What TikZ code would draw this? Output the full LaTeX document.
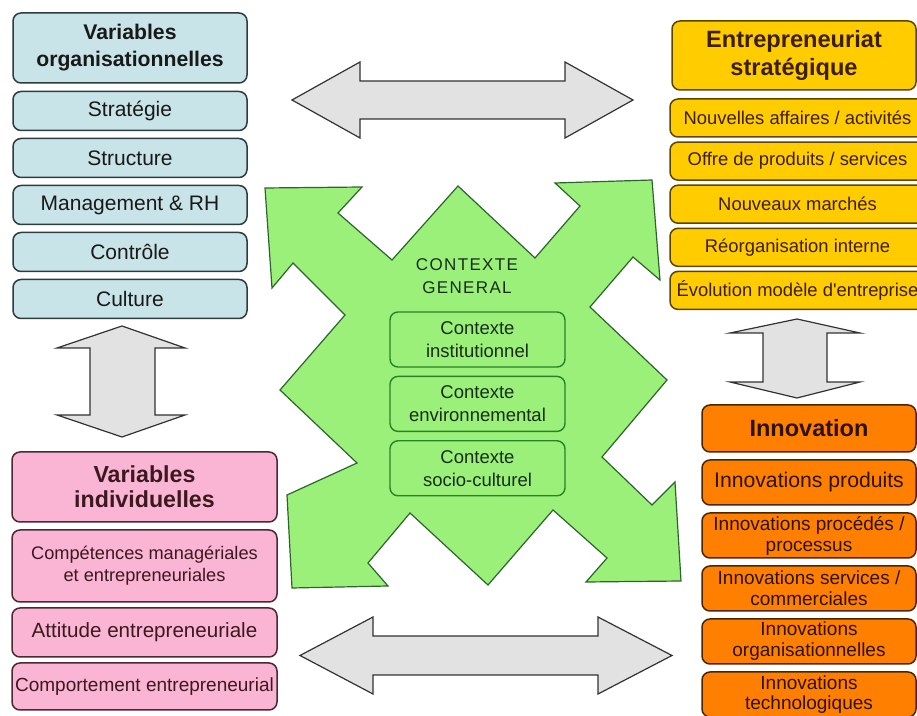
\documentclass[tikz,border=0pt]{standalone}
\usepackage{fontspec}
\setmainfont{Liberation Sans}
\newfontfamily\spacedfont[LetterSpace=8]{Liberation Sans}
\usetikzlibrary{positioning}

\definecolor{orgfill}{RGB}{200,228,232}
\definecolor{orgline}{RGB}{45,60,62}
\definecolor{orgtext}{RGB}{25,25,25}
\definecolor{stratfill}{RGB}{255,204,0}
\definecolor{stratline}{RGB}{90,70,0}
\definecolor{strattext}{RGB}{60,30,0}
\definecolor{innofill}{RGB}{255,128,0}
\definecolor{innoline}{RGB}{75,38,0}
\definecolor{innotext}{RGB}{45,18,0}
\definecolor{indivfill}{RGB}{250,180,212}
\definecolor{indivline}{RGB}{75,40,50}
\definecolor{indivtext}{RGB}{60,25,30}
\definecolor{ctxfill}{RGB}{155,240,122}
\definecolor{ctxline}{RGB}{40,130,40}
\definecolor{ctxshapeline}{RGB}{45,100,45}
\definecolor{ctxtext}{RGB}{25,45,25}
\definecolor{arrowfill}{RGB}{226,226,226}
\definecolor{arrowline}{RGB}{50,50,50}

\begin{document}
\begin{tikzpicture}[x=0.5pt,y=-0.5pt,
  box/.style={draw, rounded corners=4pt, line width=0.75pt, align=center, inner sep=0pt},
  orgbox/.style={box, fill=orgfill, draw=orgline, text=orgtext, minimum width=117pt,
    minimum height=19.5pt, font=\fontsize{10.5}{12.5}\selectfont},
  orghead/.style={orgbox, minimum height=35pt, font=\bfseries\fontsize{10.6}{13.5}\selectfont},
  stratbox/.style={box, fill=stratfill, draw=stratline, text=strattext, minimum width=127.5pt,
    minimum height=19pt, font=\fontsize{9.2}{11}\selectfont},
  strathead/.style={stratbox, minimum width=122pt, minimum height=34.5pt,
    font=\bfseries\fontsize{11.8}{14}\selectfont},
  innobox/.style={box, fill=innofill, draw=innoline, text=innotext, minimum width=107pt,
    minimum height=22.5pt, font=\fontsize{9.5}{10.5}\selectfont},
  innohead/.style={innobox, minimum height=23.5pt, font=\bfseries\fontsize{11.75}{14}\selectfont},
  indivbox/.style={box, fill=indivfill, draw=indivline, text=indivtext, minimum width=132.5pt,
    font=\fontsize{9.3}{11}\selectfont},
  indivhead/.style={indivbox, minimum height=35pt, font=\bfseries\fontsize{11.6}{12.5}\selectfont},
  ctxbox/.style={box, fill=ctxfill, draw=ctxline, text=ctxtext, minimum width=87.5pt,
    minimum height=27.5pt, line width=0.7pt, font=\fontsize{9.25}{11.5}\selectfont},
  bigarrow/.style={draw=arrowline, fill=arrowfill, line width=0.6pt, line join=miter},
  ctxshape/.style={draw=ctxshapeline, fill=ctxfill, line width=0.6pt, line join=miter}]
  \useasboundingbox (0,0) rectangle (917,716);

  % contexte general
  \draw[ctxshape] (265,188) -- (362,187) -- (338,213) -- (392,260) -- (458,186)
    -- (535,258) -- (580,206) -- (555,183) -- (652,180) -- (660,280) -- (633,257)
    -- (590,307) -- (667,380) -- (602,457) -- (652,505) -- (675,482) -- (681,581)
    -- (586,582) -- (607,558) -- (553,510) -- (488,585) -- (410,513) -- (368,563)
    -- (388,586) -- (292,588) -- (287,495) -- (357,463) -- (280,390) -- (345,315)
    -- (293,263) -- (272,288) -- cycle;
  \node[font=\spacedfont\fontsize{8.5}{11.5}\selectfont, text=ctxtext, align=center]
    (ctxtitle) at (467,276) {CONTEXTE\\GENERAL};
  \node[ctxbox] (inst) at (477.5,339.5) {Contexte\\institutionnel};
  \node[ctxbox] (envi) [below=4pt of inst] {Contexte\\environnemental};
  \node[ctxbox] (soci) [below=4pt of envi] {Contexte\\socio-culturel};

  % fleches
  \draw[bigarrow] (292,100) -- (360,62) -- (360,81) -- (565,81) -- (565,62) -- (633,100)
    -- (565,138) -- (565,119) -- (360,119) -- (360,138) -- cycle;
  \draw[bigarrow] (300,655.5) -- (373,617) -- (373,636) -- (598,636) -- (598,617)
    -- (672,655.5) -- (598,694) -- (598,675) -- (373,675) -- (373,694) -- cycle;
  \draw[bigarrow] (122,326) -- (185,348) -- (155,348) -- (155,415) -- (185,415)
    -- (122,437) -- (57,415) -- (90,415) -- (90,348) -- (57,348) -- cycle;
  \draw[bigarrow] (797,319) -- (860,333) -- (827,333) -- (827,382) -- (860,382)
    -- (797,398) -- (730,382) -- (763,382) -- (763,333) -- (730,333) -- cycle;

  % variables organisationnelles
  \node[orghead] (org) at (130,48) {Variables\\organisationnelles};
  \node[orgbox] (strat) [below=3.5pt of org] {Stratégie};
  \node[orgbox] (struc) [below=3.25pt of strat] {Structure};
  \node[orgbox] (mgmt) [below=3.25pt of struc] {Management \& RH};
  \node[orgbox] (ctrl) [below=3.25pt of mgmt] {Contrôle};
  \node[orgbox] (cult) [below=3.25pt of ctrl] {Culture};

  % entrepreneuriat strategique
  \node[strathead] (es) at (794,55.5) {Entrepreneuriat\\stratégique};
  \node[stratbox] (naff) at (797.5,118) {Nouvelles affaires / activités};
  \node[stratbox] (offre) [below=1.8pt of naff] {Offre de produits / services};
  \node[stratbox] (nmar) [below=1.8pt of offre] {Nouveaux marchés};
  \node[stratbox] (reorg) [below=1.8pt of nmar] {Réorganisation interne};
  \node[stratbox] (evol) [below=1.8pt of reorg] {Évolution modèle d\textquotesingle entreprise};

  % innovation
  \node[innohead] (inno) at (809,428.5) {Innovation};
  \node[innobox, font=\fontsize{10.6}{12}\selectfont] (iprod) [below=3.25pt of inno] {Innovations produits};
  \node[innobox] (iproc) [below=3.25pt of iprod] {Innovations procédés /\\processus};
  \node[innobox] (iserv) [below=3.25pt of iproc] {Innovations services /\\commerciales};
  \node[innobox] (iorg) [below=3.25pt of iserv] {Innovations\\organisationnelles};
  \node[innobox, font=\fontsize{9.5}{10}\selectfont] (itech) [below=3.25pt of iorg] {Innovations\\technologiques};

  % variables individuelles
  \node[indivhead] (indiv) at (144.5,487) {Variables\\individuelles};
  \node[indivbox, minimum height=36pt, font=\fontsize{9.1}{11}\selectfont] (comp) [below=3.25pt of indiv]
    {Compétences managériales\\et entrepreneuriales};
  \node[indivbox, minimum height=24.5pt, font=\fontsize{10.3}{12}\selectfont] (att) [below=2.25pt of comp]
    {Attitude entrepreneuriale};
  \node[indivbox, minimum height=23.5pt, font=\fontsize{9.5}{11}\selectfont] (comport) [below=2.25pt of att]
    {Comportement entrepreneurial};
\end{tikzpicture}
\end{document}
